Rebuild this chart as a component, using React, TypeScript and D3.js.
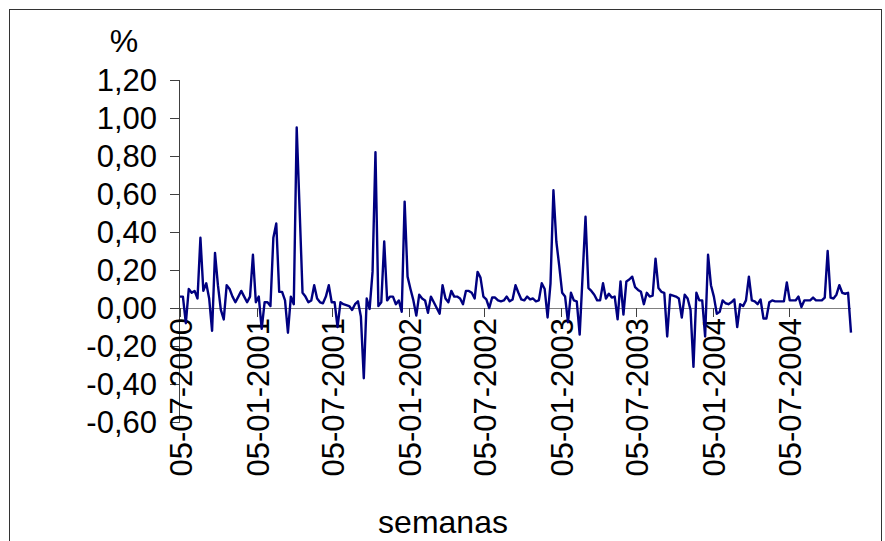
import React from "react";
import * as d3 from "d3";

const startDate = "05-07-2000";
const values: number[] = [
  0.06, 0.06, -0.08, 0.10, 0.08, 0.09, 0.05, 0.37, 0.09, 0.13,
  0.05, -0.12, 0.29, 0.12, -0.01, -0.06, 0.12, 0.10, 0.06, 0.03,
  0.06, 0.09, 0.06, 0.03, 0.06, 0.28, 0.03, 0.06, -0.11, 0.03,
  0.03, 0.01, 0.37, 0.445, 0.085, 0.085, 0.04, -0.13, 0.06, 0.02,
  0.95, 0.52, 0.08, 0.06, 0.03, 0.04, 0.12, 0.05, 0.03, 0.025,
  0.06, 0.12, 0.03, 0.03, -0.10, 0.03, 0.02, 0.015, 0.01, -0.01,
  0.02, 0.035, -0.045, -0.37, 0.05, -0.005, 0.19, 0.82, 0.01, 0.03,
  0.35, 0.04, 0.06, 0.06, 0.02, 0.04, -0.02, 0.56, 0.165, 0.10,
  0.04, -0.04, 0.07, 0.05, 0.04, -0.025, 0.06, 0.03, 0.00, -0.03,
  0.12, 0.05, 0.03, 0.09, 0.06, 0.06, 0.05, 0.02, 0.09, 0.09,
  0.08, 0.05, 0.19, 0.16, 0.06, 0.045, 0.00, 0.055, 0.055, 0.04,
  0.035, 0.04, 0.06, 0.035, 0.045, 0.12, 0.08, 0.045, 0.04, 0.06,
  0.045, 0.05, 0.035, 0.04, 0.13, 0.10, -0.05, 0.13, 0.62, 0.35,
  0.22, 0.08, 0.06, -0.075, 0.08, 0.04, 0.035, -0.14, 0.17, 0.48,
  0.105, 0.09, 0.07, 0.04, 0.04, 0.13, 0.05, 0.075, 0.055, 0.06,
  -0.06, 0.14, -0.035, 0.14, 0.15, 0.165, 0.11, 0.095, 0.085, 0.02,
  0.08, 0.06, 0.065, 0.26, 0.105, 0.085, 0.08, -0.15, 0.07, 0.065,
  0.06, 0.05, -0.05, 0.07, 0.05, -0.01, -0.31, 0.08, 0.04, 0.04,
  -0.15, 0.28, 0.12, 0.06, -0.03, -0.02, 0.04, 0.025, 0.02, 0.03,
  0.045, -0.10, 0.02, 0.01, 0.04, 0.165, 0.04, 0.035, 0.02, 0.045,
  -0.055, -0.055, 0.03, 0.04, 0.035, 0.035, 0.035, 0.035, 0.135, 0.04,
  0.04, 0.04, 0.06, 0.005, 0.04, 0.04, 0.04, 0.055, 0.04, 0.04,
  0.04, 0.055, 0.30, 0.055, 0.05, 0.07, 0.12, 0.08, 0.075, 0.08,
  -0.13,
];
const xTickLabels = [
  "05-07-2000", "05-01-2001", "05-07-2001", "05-01-2002", "05-07-2002",
  "05-01-2003", "05-07-2003", "05-01-2004", "05-07-2004",
];
const yTicks = [-0.6, -0.4, -0.2, 0, 0.2, 0.4, 0.6, 0.8, 1.0, 1.2];
const yTitle = "%";
const xTitle = "semanas";

const parse = d3.timeParse("%d-%m-%Y");
const locale = d3.formatLocale({ decimal: ",", thousands: ".", grouping: [3], currency: ["", ""], minus: "-" });
const fmt = locale.format(".2f");

export default function App() {
  const W = 885, H = 541;
  const start = parse(startDate) as Date;
  const data = values.map((v, i) => ({ d: d3.timeDay.offset(start, 7 * i), v }));
  const x = d3.scaleTime().domain([start, data[data.length - 1].d]).range([180, 851]);
  const y = d3.scaleLinear().domain([-0.6, 1.2]).range([422, 80]);
  const line = d3.line<{ d: Date; v: number }>().x((p) => x(p.d)).y((p) => y(p.v));
  const font = "'Liberation Sans', Arial, sans-serif";
  const fs = 31;
  const fsTitle = 32;
  return (
    <svg width={W} height={H} style={{ position: "absolute", left: 0, top: 0, background: "#fff" }}
      fontFamily={font}>
      <rect x={9.5} y={9.5} width={872} height={560} fill="#fff" stroke="#333" strokeWidth={1} />
      {/* y axis */}
      <line x1={179.5} x2={179.5} y1={y(1.2)} y2={y(-0.6)} stroke="#404040" strokeWidth={1} />
      {yTicks.map((t) => (
        <g key={t}>
          <line x1={170} x2={180} y1={Math.round(y(t)) + 0.5} y2={Math.round(y(t)) + 0.5} stroke="#404040" />
          <text x={157} y={y(t)} dy="0.36em" textAnchor="end" fontSize={fs} fill="#000">{fmt(t)}</text>
        </g>
      ))}
      {/* x axis */}
      <line x1={180} x2={x(data[data.length - 1].d)} y1={Math.round(y(0)) + 0.5} y2={Math.round(y(0)) + 0.5} stroke="#808080" strokeWidth={1.2} />
      {xTickLabels.map((s) => {
        const px = Math.round(x(parse(s) as Date)) + 0.5;
        return (
          <g key={s}>
            <line x1={px} x2={px} y1={y(0)} y2={y(0) + 9} stroke="#404040" />
            <text transform={`translate(${px},${y(0) + 10}) rotate(-90)`} dy="0.36em" textAnchor="end" fontSize={fs} fill="#000">{s}</text>
          </g>
        );
      })}
      <path d={line(data) || ""} fill="none" stroke="#000080" strokeWidth={2.4} strokeLinejoin="round" />
      <text x={124} y={40} dy="0.36em" textAnchor="middle" fontSize={fsTitle} fill="#000">{yTitle}</text>
      <text x={443} y={521} dy="0.36em" textAnchor="middle" fontSize={fsTitle} fill="#000">{xTitle}</text>
    </svg>
  );
}
